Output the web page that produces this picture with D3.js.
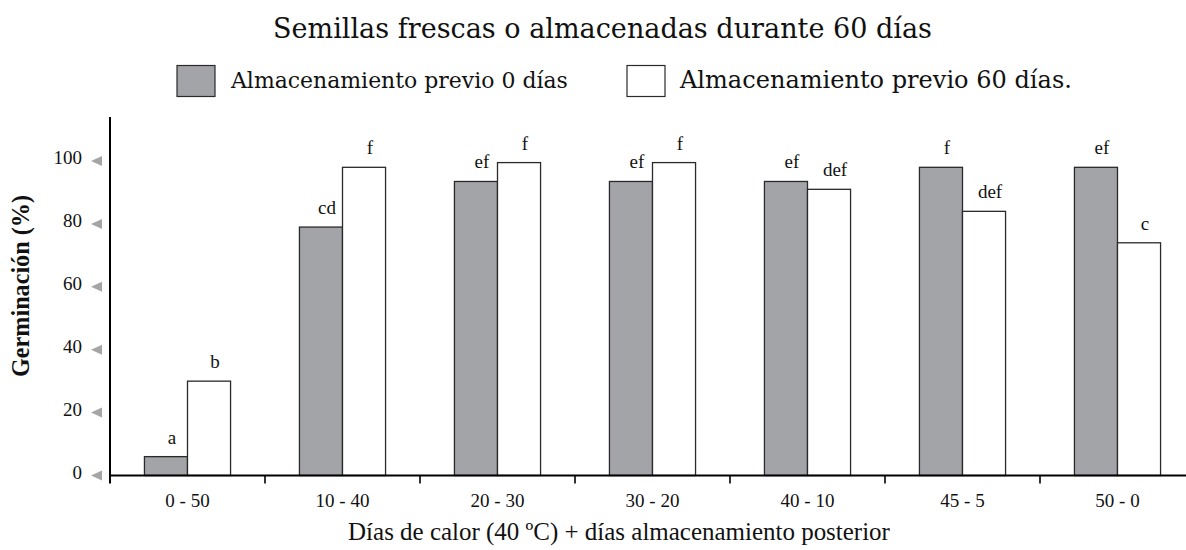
<!DOCTYPE html>
<html>
<head>
<meta charset="utf-8">
<script src="https://cdn.jsdelivr.net/npm/d3@7"></script>
<style>
  body { margin: 0; background: #fff; }
  svg { display: block; }
</style>
</head>
<body>
<svg id="chart" width="1186" height="550"></svg>
<script>
// ---- data ----
const categories = ["0 - 50", "10 - 40", "20 - 30", "30 - 20", "40 - 10", "45 - 5", "50 - 0"];
const seriesNames = ["Almacenamiento previo 0 días", "Almacenamiento previo 60 días."];
const storage0 = [6, 79, 93.5, 93.5, 93.5, 98, 98];
const storage60 = [30, 98, 99.5, 99.5, 91, 84, 74];
const letters0 = ["a", "cd", "ef", "ef", "ef", "f", "ef"];
const letters60 = ["b", "f", "f", "f", "def", "def", "c"];
const yTicks = [0, 20, 40, 60, 80, 100];
const titleText = "Semillas frescas o almacenadas durante 60 días";
const xLabel = "Días de calor (40 ºC) + días almacenamiento posterior";
const yLabel = "Germinación (%)";

// ---- layout ----
const svg = d3.select("#chart");
const left = 110, right = 1195, baseY = 475.5, topY = 117;
const fills = ["#a3a4a8", "#ffffff"];
const stroke = "#2a2a2a";

const x = d3.scaleBand().domain(categories).range([left, right]).paddingInner(0).paddingOuter(0);
const x1 = d3.scaleBand().domain([0, 1]).range([0, x.bandwidth()]).paddingInner(0).paddingOuter(0.8);
const y = d3.scaleLinear().domain([0, 114]).range([baseY, topY]);

function fit(sel, target) {
  const fs = parseFloat(sel.attr("font-size"));
  const w = sel.node().getComputedTextLength();
  sel.attr("font-size", (fs * target / w).toFixed(2));
}

// title
const t = svg.append("text").attr("x", 602.5).attr("y", 38).attr("text-anchor", "middle")
  .attr("font-family", "DejaVu Serif").attr("font-size", 24).attr("fill", "#111").text(titleText);
fit(t, 659);

// legend
const legendItems = [
  { box: 177, text: 231, w: 337 },
  { box: 627, text: 680, w: 392 }
];
seriesNames.forEach((name, i) => {
  const li = legendItems[i];
  svg.append("rect").attr("x", li.box).attr("y", 65.5).attr("width", 38).attr("height", 31)
    .attr("fill", fills[i]).attr("stroke", stroke).attr("stroke-width", 1.2);
  const lt = svg.append("text").attr("x", li.text).attr("y", 88)
    .attr("font-family", "DejaVu Serif").attr("font-size", 20).attr("fill", "#111").text(name);
  fit(lt, li.w);
});

// bars
const rows = categories.map((c, i) => ({ c, vals: [storage0[i], storage60[i]], lets: [letters0[i], letters60[i]] }));
const g = svg.append("g");
rows.forEach(r => {
  r.vals.forEach((v, k) => {
    g.append("rect")
      .attr("x", x(r.c) + x1(k)).attr("y", y(v))
      .attr("width", x1.bandwidth()).attr("height", baseY - y(v))
      .attr("fill", fills[k]).attr("stroke", stroke).attr("stroke-width", 1.3);
    g.append("text")
      .attr("x", x(r.c) + x1(k) + x1.bandwidth() / 2 + 6).attr("y", y(v) - 13)
      .attr("text-anchor", "middle").attr("font-family", "Liberation Serif").attr("font-size", 19)
      .attr("fill", "#111").text(r.lets[k]);
  });
});

// axes
svg.append("line").attr("x1", left).attr("x2", 1186).attr("y1", baseY).attr("y2", baseY)
  .attr("stroke", "#000").attr("stroke-width", 2);
svg.append("line").attr("x1", left).attr("x2", left).attr("y1", topY).attr("y2", baseY + 8)
  .attr("stroke", "#000").attr("stroke-width", 2);

// x ticks at band boundaries
categories.slice(1).forEach(c => {
  svg.append("line").attr("x1", x(c)).attr("x2", x(c)).attr("y1", baseY).attr("y2", baseY + 8)
    .attr("stroke", "#000").attr("stroke-width", 1.6);
});
categories.forEach(c => {
  svg.append("text").attr("x", x(c) + x.bandwidth() / 2).attr("y", 506.5)
    .attr("text-anchor", "middle").attr("font-family", "Liberation Serif").attr("font-size", 19)
    .attr("fill", "#111").text(c);
});

// y ticks: gray triangles + labels
yTicks.forEach(v => {
  const yy = y(v);
  svg.append("path").attr("d", `M91,${yy} L102,${yy - 5} L102,${yy + 5} Z`).attr("fill", "#a5a5a5");
  svg.append("text").attr("x", 82).attr("y", yy + 3).attr("text-anchor", "end")
    .attr("font-family", "Liberation Serif").attr("font-size", 19).attr("fill", "#111").text(v);
});

// axis titles
const xl = svg.append("text").attr("x", 619).attr("y", 540).attr("text-anchor", "middle")
  .attr("font-family", "Liberation Serif").attr("font-size", 21).attr("fill", "#111").text(xLabel);
fit(xl, 542);

const yl = svg.append("text").attr("transform", "translate(29,286) rotate(-90)").attr("text-anchor", "middle")
  .attr("font-family", "Liberation Serif").attr("font-weight", "bold").attr("font-size", 21)
  .attr("fill", "#111").text(yLabel);
fit(yl, 182);
</script>
</body>
</html>
